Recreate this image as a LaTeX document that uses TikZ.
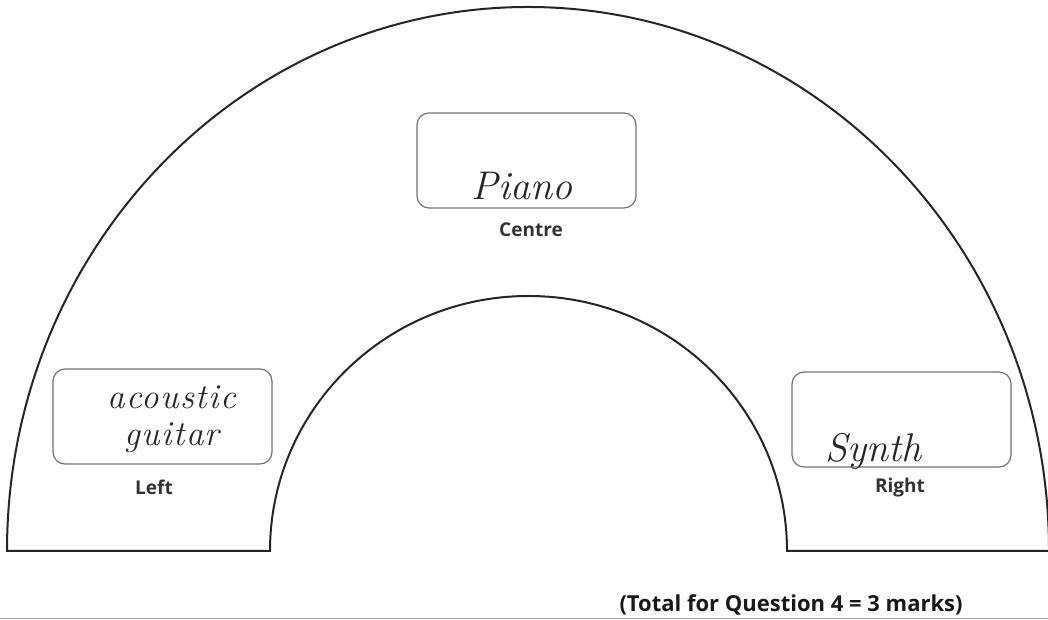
\documentclass[tikz,border=0pt]{standalone}
\usepackage{fontspec}
\newfontfamily\labfont{Open Sans}
\newfontfamily\handfont{Latin Modern Roman}
\newfontfamily\handwide[LetterSpace=4]{Latin Modern Roman}
\begin{document}
\begin{tikzpicture}[x=0.5pt,y=0.5pt,
  outline/.style={draw=black!85, line width=1pt},
  answerbox/.style={draw=black!55, line width=0.6pt, rounded corners=6pt, minimum width=109.5pt, minimum height=47.5pt, inner sep=0pt},
  poslabel/.style={font=\labfont\bfseries\fontsize{9.5}{12}\selectfont, text=black!80, anchor=base, inner sep=0pt},
  handtext/.style={font=\handfont\itshape\fontsize{20}{24}\selectfont, text=black!85, anchor=base, inner sep=0pt}]
\useasboundingbox (0,0) rectangle (1048,620);
\fill[white] (0,0) rectangle (1048,620);
% stage outline
\draw[outline] (1049,69) arc[start angle=0, end angle=180, x radius=521, y radius=544]
  -- (270,69) arc[start angle=180, end angle=0, x radius=258.5, y radius=255] -- cycle;
% faint rule at bottom
\draw[black!35, line width=0.5pt] (0,1) -- (1048,1);
% answer boxes
\node[answerbox] (cbox) at (526.5,459.5) {};
\node[answerbox] (lbox) at (162.5,203.5) {};
\node[answerbox] (rbox) at (901.5,200.5) {};
% handwritten answers
\node[handtext] (piano) at (522,420) {Piano};
\node[handtext, anchor=center, align=center, font=\handwide\itshape\fontsize{17.5}{18.5}\selectfont] (guitar) at (172,201) {acoustic\\guitar};
\node[handtext] (synth) at (873,158) {Synth};
% position labels
\node[poslabel] (centre) at (531,383) {Centre};
\node[poslabel] (left) at (154,125) {Left};
\node[poslabel] (right) at (900,127) {Right};
% total
\node[font=\labfont\bfseries\fontsize{11}{13}\selectfont, text=black!90, anchor=base east, inner sep=0pt] (total) at (963,8) {(Total for Question 4 = 3 marks)};
\end{tikzpicture}
\end{document}
